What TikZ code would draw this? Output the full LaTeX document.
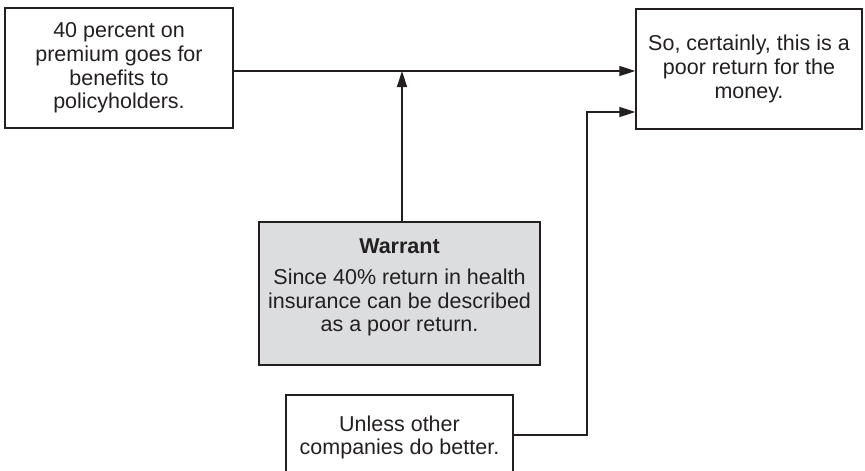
\documentclass[tikz,border=0pt]{standalone}
\usepackage{fontspec}
\setmainfont{Liberation Sans}
\usetikzlibrary{arrows.meta}
\definecolor{ink}{RGB}{35,31,32}
\definecolor{wfill}{RGB}{220,221,223}
\begin{document}
\begin{tikzpicture}[x=1pt,y=-1pt,
  box/.style={draw=ink, line width=1.4pt, inner sep=0pt},
  txt/.style={align=center, text=ink, font=\fontsize{21.5}{23.7}\selectfont, inner sep=0pt},
  arr/.style={draw=ink, line width=1.4pt, -{Triangle[length=16pt,width=10pt]}}]
\useasboundingbox (0,0) rectangle (865,471);
% boxes
\node[box, minimum width=228pt, minimum height=120pt] (L) at (119,68) {};
\node[box, minimum width=226pt, minimum height=120pt] (R) at (749,69) {};
\node[box, fill=wfill, minimum width=281pt, minimum height=143pt] (W) at (399.5,293.5) {};
\node[box, minimum width=227pt, minimum height=100pt] (U) at (399.5,445) {};
% texts
\node[txt] (Lt) at (119,68) {40 percent on\\premium goes for\\benefits to\\policyholders.};
\node[txt] (Rt) at (749,69) {So, certainly, this is a\\poor return for the\\money.};
\node[txt] (Wt) at (399.5,287.5) {\textbf{Warrant}\\[7pt]Since 40\% return in health\\insurance can be described\\as a poor return.};
\node[txt] (Ut) at (399.5,437.5) {Unless other\\companies do better.};
% connectors
\coordinate (m) at (0,71);
\coordinate (j) at (402,71);
\coordinate (u) at (0,435);
\coordinate (k) at (587,112);
\draw[arr] (L.east |- m) -- (R.west |- m);
\draw[arr] (W.north -| j) -- (j);
\draw[arr] (U.east |- u) -| (k) -- (R.west |- k);
\end{tikzpicture}
\end{document}
